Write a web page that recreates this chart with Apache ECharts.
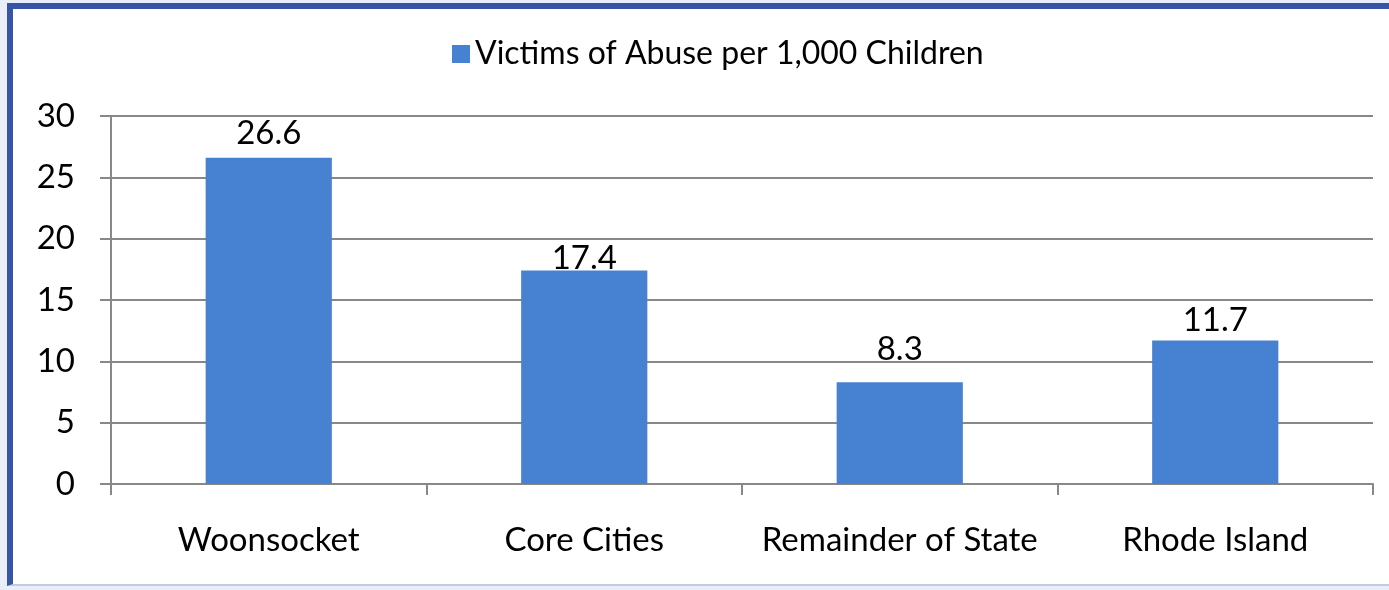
<!DOCTYPE html>
<html>
<head>
<meta charset="utf-8">
<script src="https://cdn.jsdelivr.net/npm/echarts@6/dist/echarts.min.js"></script>
<style>
  html, body { margin: 0; padding: 0; background: #e9eef8; }
  #frame {
    position: absolute; left: 7px; top: 3px; width: 1382px; height: 583px;
    background: #fff;
    border-left: 6px solid #3755a6; border-top: 6px solid #3755a6;
    border-bottom: 2px solid #c3cbe0;
    box-sizing: border-box;
  }
  #main { position: absolute; left: 0; top: 0; width: 1389px; height: 590px; }
</style>
</head>
<body>
<div id="frame"></div>
<div id="main"></div>
<script>
var categories = ['Woonsocket', 'Core Cities', 'Remainder of State', 'Rhode Island'];
var victims = [26.6, 17.4, 8.3, 11.7];
var seriesName = 'Victims of Abuse per 1,000 Children';

// gap between each bar top and its value label, as placed in the original
var labelGap = [8, -4, 16, 4];

var myChart = echarts.init(document.getElementById('main'));
var font = 'Lato, "Open Sans", sans-serif';

var barData = victims.map(function (v, i) {
    return { value: v, label: { distance: labelGap[i] } };
});

var option = {
    animation: false,
    textStyle: { fontFamily: font },
    legend: {
        data: [seriesName],
        top: 33,
        left: 447,
        itemWidth: 18,
        itemHeight: 18,
        itemGap: 8,
        icon: 'rect',
        textStyle: { fontSize: 32, color: '#000', fontFamily: font }
    },
    grid: { left: 111, right: 16, top: 116, bottom: 106 },
    xAxis: {
        type: 'category',
        data: categories,
        axisLine: { lineStyle: { color: '#888', width: 2 } },
        axisTick: { show: true, interval: 0, length: 11, lineStyle: { color: '#888', width: 2 } },
        axisLabel: { interval: 0, fontSize: 33, color: '#000', margin: 40, fontFamily: font }
    },
    yAxis: {
        type: 'value',
        min: 0,
        max: 30,
        interval: 5,
        axisLine: { show: true, lineStyle: { color: '#888', width: 2 } },
        axisTick: { show: true, length: 11, lineStyle: { color: '#888', width: 2 } },
        axisLabel: { fontSize: 33, color: '#000', margin: 36, fontFamily: font },
        splitLine: { lineStyle: { color: '#888', width: 2 } }
    },
    series: [
        {
            name: seriesName,
            type: 'bar',
            data: barData,
            barWidth: '40%',
            itemStyle: { color: '#4781d1' },
            label: {
                show: true,
                position: 'top',
                fontSize: 33,
                color: '#000',
                fontFamily: font
            }
        }
    ]
};

myChart.setOption(option);
</script>
</body>
</html>
